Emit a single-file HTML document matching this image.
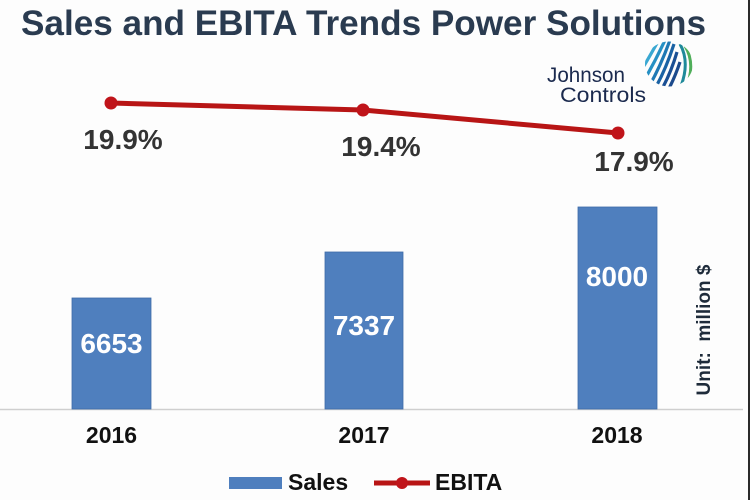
<!DOCTYPE html>
<html>
<head>
<meta charset="utf-8">
<style>
  html, body { margin:0; padding:0; background:#fdfdfd; }
  body { width:750px; height:500px; overflow:hidden; }
  svg { display:block; }
  text { font-family:"Liberation Sans", Arial, sans-serif; }
</style>
</head>
<body>
<svg width="750" height="500" viewBox="0 0 750 500" xmlns="http://www.w3.org/2000/svg">
  <defs>
    <clipPath id="logoClip"><ellipse cx="669" cy="64" rx="24" ry="22.5"/></clipPath>
  </defs>
  <rect x="0" y="0" width="750" height="500" fill="#fdfdfd"/>

  <!-- Title -->
  <text x="21" y="35" font-size="35" font-weight="bold" fill="#2a3b50" textLength="685" lengthAdjust="spacingAndGlyphs">Sales and EBITA Trends Power Solutions</text>

  <!-- Logo text -->
  <text x="547" y="82" font-size="21" fill="#1b2a4e" textLength="78" lengthAdjust="spacingAndGlyphs">Johnson</text>
  <text x="560" y="102" font-size="21" fill="#1b2a4e" textLength="86" lengthAdjust="spacingAndGlyphs">Controls</text>

  <!-- Logo mark -->
  <g clip-path="url(#logoClip)" fill="none" stroke-linecap="butt">
    <path d="M636 66 Q646 50 656 34" stroke="#5bbfdc" stroke-width="3.2"/>
    <path d="M638 76 Q650 56 661 36" stroke="#3aa8d2" stroke-width="3.2"/>
    <path d="M642 84 Q655 62 666 38" stroke="#2690c4" stroke-width="3.2"/>
    <path d="M647 90 Q660 68 670 40" stroke="#1f78b4" stroke-width="3.2"/>
    <path d="M653 92 Q665 72 674 44" stroke="#1a62a4" stroke-width="3.2"/>
    <path d="M659 94 Q670 76 677 52" stroke="#1a4f94" stroke-width="3.2"/>
    <path d="M666 94 Q674 80 680 62" stroke="#1c4a8c" stroke-width="3.2"/>
    <path d="M680 44 Q690 62 681 86" stroke="#1f8a9a" stroke-width="3"/>
    <path d="M685 46 Q696 64 686 88" stroke="#4fae5a" stroke-width="3"/>
    <path d="M690 50 Q700 64 692 84" stroke="#8cc63f" stroke-width="3"/>
    <path d="M695 54 Q702 64 697 78" stroke="#c5d82e" stroke-width="3"/>
  </g>

  <!-- Axis line -->
  <line x1="0" y1="409.5" x2="743" y2="409.5" stroke="#cfcfcf" stroke-width="1.5"/>

  <!-- Bars -->
  <rect x="72" y="298" width="79" height="111" fill="#4f7fbe" stroke="#3f6ca8" stroke-width="0.8"/>
  <rect x="325" y="252" width="78" height="157" fill="#4f7fbe" stroke="#3f6ca8" stroke-width="0.8"/>
  <rect x="578" y="207" width="79" height="202" fill="#4f7fbe" stroke="#3f6ca8" stroke-width="0.8"/>

  <!-- Bar labels -->
  <g font-size="28" font-weight="bold" fill="#ffffff" text-anchor="middle">
    <text x="111.5" y="353">6653</text>
    <text x="364" y="335">7337</text>
    <text x="617" y="286">8000</text>
  </g>

  <!-- EBITA line -->
  <polyline points="111,103 363,110 618,133" fill="none" stroke="#b81515" stroke-width="5" stroke-linejoin="round"/>
  <circle cx="111" cy="103" r="6.5" fill="#c0141a"/>
  <circle cx="363" cy="110" r="6.5" fill="#c0141a"/>
  <circle cx="618" cy="133" r="6.5" fill="#c0141a"/>

  <!-- Percent labels -->
  <g font-size="28" font-weight="bold" fill="#333333" text-anchor="middle">
    <text x="123" y="149">19.9%</text>
    <text x="381" y="156">19.4%</text>
    <text x="634" y="171">17.9%</text>
  </g>

  <!-- Year labels -->
  <g font-size="23" font-weight="bold" fill="#111111" text-anchor="middle">
    <text x="111.5" y="443">2016</text>
    <text x="364" y="443">2017</text>
    <text x="617" y="443">2018</text>
  </g>

  <!-- Unit label -->
  <text transform="translate(710,330) rotate(-90)" font-size="19" font-weight="bold" fill="#1e2b3a" text-anchor="middle" xml:space="preserve">Unit:  million $</text>

  <!-- Legend -->
  <rect x="229" y="477" width="53" height="12" fill="#4f7fbe"/>
  <text x="288" y="490" font-size="23" font-weight="bold" fill="#111111">Sales</text>
  <line x1="374" y1="483" x2="430" y2="483" stroke="#b81515" stroke-width="5"/>
  <circle cx="402" cy="483" r="6" fill="#c0141a"/>
  <text x="435" y="490" font-size="23" font-weight="bold" fill="#111111">EBITA</text>

  <!-- Right edge dark line -->
  <rect x="748" y="0" width="2" height="500" fill="#2a2a2a"/>
</svg>
</body>
</html>
